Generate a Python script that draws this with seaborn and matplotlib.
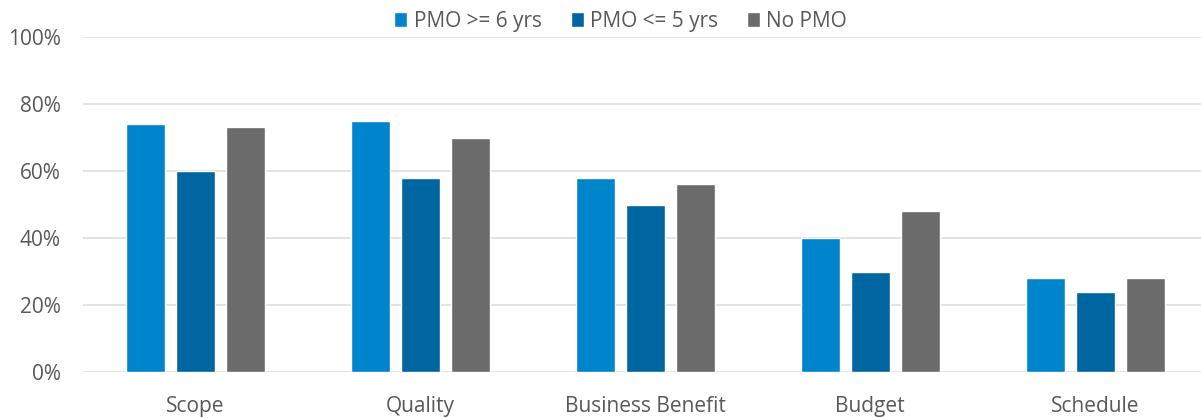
import pandas as pd
import seaborn as sns
import matplotlib.pyplot as plt
from matplotlib.ticker import PercentFormatter

categories = ['Scope', 'Quality', 'Business Benefit', 'Budget', 'Schedule']
series_names = ['PMO >= 6 yrs', 'PMO <= 5 yrs', 'No PMO']
pmo_6_plus = [0.74, 0.75, 0.58, 0.40, 0.28]
pmo_5_less = [0.60, 0.58, 0.50, 0.30, 0.24]
no_pmo = [0.73, 0.70, 0.56, 0.48, 0.28]
colors = ['#0084CC', '#0066A1', '#6B6B6B']

rows = []
for name, vals in zip(series_names, [pmo_6_plus, pmo_5_less, no_pmo]):
    for cat, v in zip(categories, vals):
        rows.append({'category': cat, 'series': name, 'value': v})
df = pd.DataFrame(rows)

sns.set_theme(style='white')
plt.rcParams['font.family'] = ['Open Sans', 'DejaVu Sans']
text_color = '#595959'

fig = plt.figure(figsize=(12.01, 4.18), dpi=100)
ax = fig.add_axes([0.069, 0.110, 0.931, 0.8015])

sns.barplot(data=df, x='category', y='value', hue='series',
            order=categories, hue_order=series_names, palette=colors,
            width=0.667, gap=0.22, saturation=1, ax=ax, zorder=3)

ax.set_ylim(0, 1.0)
ax.set_xlim(-0.5, 4.47)
ax.set_yticks([0, 0.2, 0.4, 0.6, 0.8, 1.0])
ax.yaxis.set_major_formatter(PercentFormatter(1.0, decimals=0))
ax.grid(axis='y', color='#DEDEDE', linewidth=1.2, zorder=0)
ax.set_axisbelow(True)
for s in ax.spines.values():
    s.set_visible(False)
ax.set_xlabel('')
ax.set_ylabel('')
ax.tick_params(axis='both', length=0, labelsize=15, colors=text_color)
ax.tick_params(axis='y', pad=16)
ax.tick_params(axis='x', pad=17)

leg = ax.legend(loc='center', bbox_to_anchor=(0.481, 1.047), ncol=3,
                frameon=False, fontsize=15, handlelength=0.62, handleheight=0.72,
                handletextpad=0.3, columnspacing=1.4, borderaxespad=0.0,
                borderpad=0.0)
for t in leg.get_texts():
    t.set_color(text_color)

fig.savefig('out.png', dpi=100)
